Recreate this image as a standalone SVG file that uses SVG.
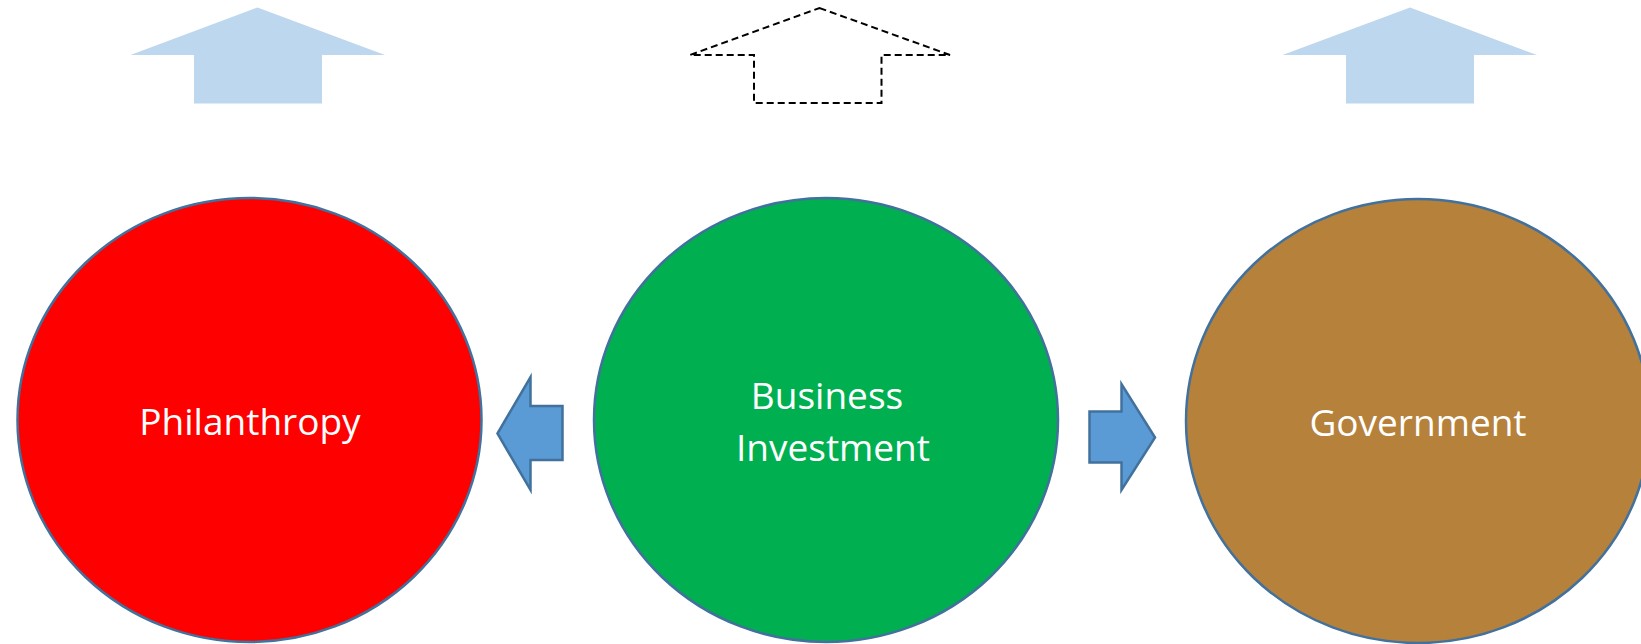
<svg xmlns="http://www.w3.org/2000/svg" width="1641" height="644" viewBox="0 0 1641 644">
<style>
.circ{stroke:#41719C;stroke-width:2.5}
.lbl{font-family:"Open Sans","Noto Sans",sans-serif;font-size:37px;fill:#FFFFFF;text-anchor:middle}
.up{fill:#BDD7EE}
.updash{fill:none;stroke:#000000;stroke-width:2;stroke-dasharray:7,4}
.side{fill:#5B9BD5;stroke:#41719C;stroke-width:2.5;stroke-linejoin:miter}
</style>
<rect width="1641" height="644" fill="#FFFFFF"/>
<g id="arrow-up-left"><polygon class="up" points="257.5,7.5 385,55 322,55 322,103.5 194,103.5 194,55 130.5,55"/></g>
<g id="arrow-up-center"><polygon class="updash" points="819.5,8 950,55 881.5,55 881.5,103 754,103 754,55 690,55"/></g>
<g id="arrow-up-right"><polygon class="up" points="1410,7.5 1537,55 1474,55 1474,103.5 1346,103.5 1346,55 1282.5,55"/></g>
<g id="philanthropy">
<ellipse class="circ" cx="249.5" cy="420" rx="232" ry="222" fill="#FF0000"/>
<text class="lbl" x="250" y="435">Philanthropy</text>
</g>
<g id="business-investment">
<ellipse class="circ" cx="826" cy="420" rx="232" ry="222" fill="#00B050"/>
<text class="lbl" x="827" y="409">Business</text>
<text class="lbl" x="833" y="461">Investment</text>
</g>
<g id="government">
<ellipse class="circ" cx="1418" cy="421" rx="232" ry="222" fill="#B5813B"/>
<text class="lbl" x="1418" y="436">Government</text>
</g>
<g id="connectors">
<polygon class="side" points="497.5,433.5 530.5,377 530.5,406 562.5,406 562.5,460 530.5,460 530.5,490"/>
<polygon class="side" points="1155,437.5 1121.5,384 1121.5,411.5 1089.5,411.5 1089.5,462.5 1121.5,462.5 1121.5,490"/>
</g>
</svg>
